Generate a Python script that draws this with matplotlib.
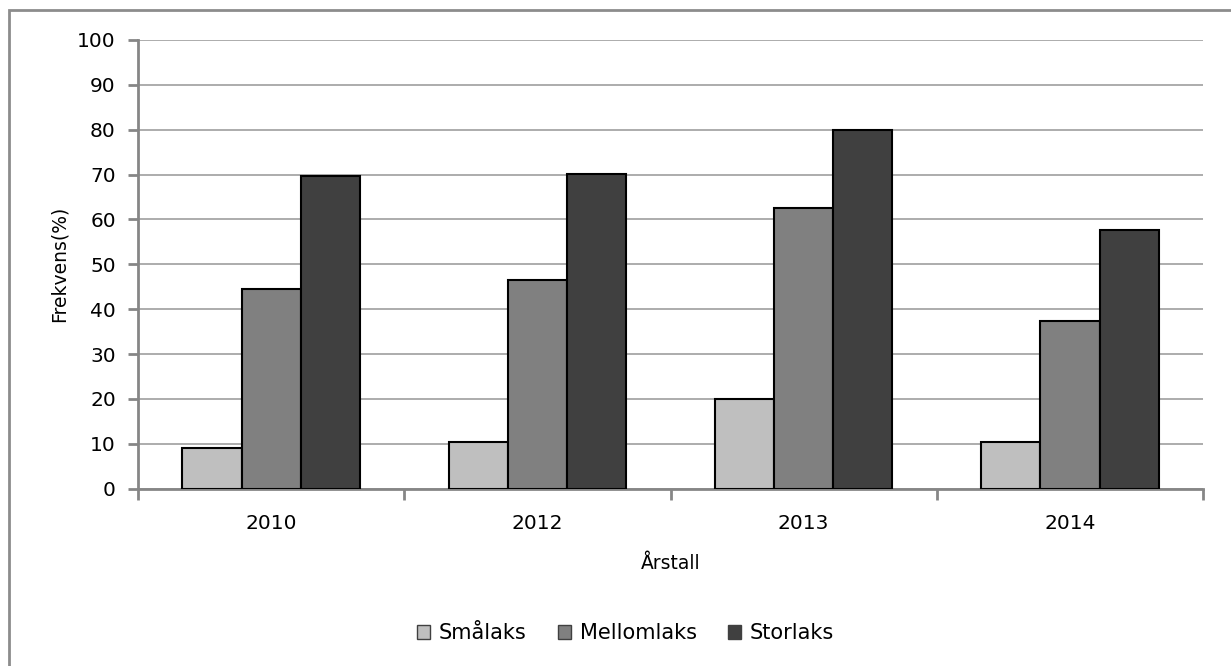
import numpy as np
import matplotlib.pyplot as plt
from matplotlib.patches import Patch, Rectangle

plt.rcParams['font.family'] = ['DejaVu Sans']

years = ['2010', '2012', '2013', '2014']
series = ['Smålaks', 'Mellomlaks', 'Storlaks']
smalaks = [9.0, 10.3, 20.0, 10.5]
mellomlaks = [44.6, 46.6, 62.5, 37.3]
storlaks = [69.7, 70.1, 80.0, 57.7]
colors = ['#bfbfbf', '#808080', '#404040']

fig = plt.figure(figsize=(12.31, 6.66), dpi=100)
ax = fig.add_axes([0.1121, 0.2662, 0.8652, 0.6738])

# outer chart border (only top/left visible in the reference)
fig.patches.append(Rectangle((9 / 1231, -0.1), 1.2, 1 - 10 / 666 + 0.1,
                             transform=fig.transFigure, fill=False,
                             edgecolor='#8c8c8c', linewidth=2))

x = np.arange(len(years))
w = 1 / 4.5
for i, (vals, c) in enumerate(zip([smalaks, mellomlaks, storlaks], colors)):
    ax.bar(x + (i - 1) * w, vals, w, color=c, edgecolor='black',
           linewidth=1.5, zorder=3)

ax.set_xlim(-0.5, len(years) - 0.5)
ax.set_ylim(0, 100)
ax.set_yticks(range(0, 101, 10))
ax.yaxis.grid(True, color='#a6a6a6', linewidth=1.3)
ax.set_axisbelow(True)

ax.set_xticks(x)
ax.set_xticklabels(years, fontsize=14.5)
ax.set_xticks(np.arange(-0.5, len(years)), minor=True)
ax.tick_params(axis='x', which='major', length=0, pad=18)
ax.tick_params(axis='x', which='minor', length=8, width=2, color='#868686')
ax.tick_params(axis='y', length=7, width=2, color='#868686', labelsize=14.5, pad=9)

for s in ['top', 'right']:
    ax.spines[s].set_visible(False)
for s in ['left', 'bottom']:
    ax.spines[s].set_color('#868686')
    ax.spines[s].set_linewidth(2)

ax.set_ylabel('Frekvens(%)', fontsize=13.5, labelpad=6)
ax.set_xlabel('Årstall', fontsize=13.5, labelpad=15)

handles = [Patch(facecolor=c, edgecolor='#404040', linewidth=1) for c in colors]
fig.legend(handles, series, loc='center', bbox_to_anchor=(0.508, 1 - 633 / 666),
           ncol=3, frameon=False, fontsize=15, handlelength=0.65, handleheight=0.65,
           handletextpad=0.4, columnspacing=1.5)

fig.savefig('out.png', dpi=100)
